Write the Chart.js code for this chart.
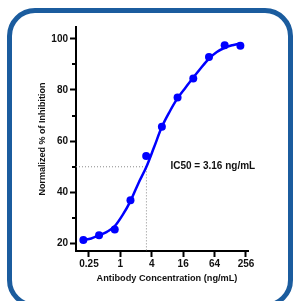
<!DOCTYPE html>
<html>
<head>
<meta charset="utf-8">
<script src="https://cdn.jsdelivr.net/npm/chart.js@4/dist/chart.umd.min.js"></script>
<style>
  html, body { margin: 0; padding: 0; background: #ffffff; overflow: hidden; }
  #wrap { position: relative; width: 294px; height: 301px; }
  #frame {
    position: absolute; left: 7px; top: 8px; width: 286px; height: 300px;
    box-sizing: border-box; border: 5px solid #1b5c9e; border-radius: 28px;
    pointer-events: none;
  }
  canvas { position: absolute; left: 0; top: 0; }
</style>
</head>
<body>
<div id="wrap">
  <canvas id="c" width="294" height="301"></canvas>
  <div id="frame"></div>
</div>
<script>
// ---- data ----
const concentrations = [0.195, 0.39, 0.78, 1.5625, 3.125, 6.25, 12.5, 25, 50, 100, 200];
const inhibition     = [21.4, 23.3, 25.5, 36.9, 54.2, 65.6, 77.1, 84.5, 92.9, 97.5, 97.3];

const fitX = [0.195, 0.276, 0.39, 0.552, 0.78, 1.10, 1.5625, 2.21, 3.16, 4.42, 6.25, 8.84, 12.5, 17.7, 25, 35.4, 50, 70.7, 100, 141, 200];
const fitY = [21.4, 22.0, 23.2, 24.6, 26.8, 31.1, 36.6, 43.5, 50.0, 57.6, 65.6, 71.6, 76.8, 80.9, 84.8, 88.7, 92.2, 94.8, 96.5, 97.5, 98.2];

const xTickValues = [0.25, 1, 4, 16, 64, 256];
const xTickLabels = ['0.25', '1', '4', '16', '64', '256'];
const yTickValues = [20, 40, 60, 80, 100];
const yTickLabels = ['20', '40', '60', '80', '100'];
const yMinorTicks = [30, 50, 70, 90];

const ic50 = 3.16;
const halfLevel = 50;
const ic50Label = 'IC50 = 3.16 ng/mL';
const xTitle = 'Antibody Concentration (ng/mL)';
const yTitle = 'Normalized % of Inhibition';

const xMin = 0.141, xMax = 280;
const yMin = 17.1, yMax = 104.6;

// ---- chart ----
const FONT = "'Liberation Sans', Arial, sans-serif";
const BLUE = 'rgb(0,0,255)';

const extras = {
  id: 'extras',
  afterDatasetsDraw(chart) {
    const ctx = chart.ctx;
    const xs = chart.scales.x, ys = chart.scales.y;
    ctx.save();
    // minor y ticks
    ctx.strokeStyle = '#000';
    ctx.lineWidth = 2;
    const ax = xs.left;
    yMinorTicks.forEach(v => {
      const py = Math.round(ys.getPixelForValue(v));
      ctx.beginPath();
      ctx.moveTo(ax - 4, py);
      ctx.lineTo(ax, py);
      ctx.stroke();
    });
    ctx.fillStyle = '#111';
    // IC50 label
    ctx.font = "bold 10px " + FONT;
    ctx.textAlign = 'left';
    ctx.textBaseline = 'middle';
    ctx.fillText(ic50Label, xs.getPixelForValue(ic50) + 24, ys.getPixelForValue(halfLevel) - 1);
    // x axis title
    ctx.font = "bold 9.2px " + FONT;
    ctx.textAlign = 'center';
    ctx.fillText(xTitle, (xs.left + xs.right) / 2 + 5, xs.bottom - 23);
    ctx.restore();
  }
};

new Chart(document.getElementById('c'), {
  type: 'scatter',
  data: {
    datasets: [
      {
        label: 'data',
        data: concentrations.map((x, i) => ({ x, y: inhibition[i] })),
        backgroundColor: BLUE,
        borderColor: BLUE,
        pointRadius: 4,
        pointBorderWidth: 0,
        showLine: false,
        order: 0
      },
      {
        type: 'line',
        label: 'fit',
        data: fitX.map((x, i) => ({ x, y: fitY[i] })),
        borderColor: BLUE,
        borderWidth: 2.5,
        pointRadius: 0,
        cubicInterpolationMode: 'monotone',
        fill: false,
        order: 1
      },
      {
        type: 'line',
        label: 'ic50',
        data: [{ x: xMin, y: halfLevel }, { x: ic50, y: halfLevel }, { x: ic50, y: yMin }],
        borderColor: '#8a8a8a',
        borderWidth: 1,
        borderDash: [1, 2],
        pointRadius: 0,
        tension: 0,
        fill: false,
        order: 2
      }
    ]
  },
  options: {
    responsive: false,
    animation: false,
    devicePixelRatio: 1,
    layout: { padding: { top: 27, right: 46, left: 0, bottom: 0 } },
    plugins: { legend: { display: false }, tooltip: { enabled: false } },
    scales: {
      x: {
        type: 'logarithmic',
        min: xMin, max: xMax,
        afterFit(s) { s.height = 50; },
        afterBuildTicks(s) { s.ticks = xTickValues.map(v => ({ value: v })); },
        ticks: {
          callback(v) { const i = xTickValues.indexOf(v); return i >= 0 ? xTickLabels[i] : ''; },
          font: { family: FONT, size: 10, weight: 'bold' },
          color: '#111',
          padding: 1,
          maxRotation: 0, autoSkip: false
        },
        grid: { drawOnChartArea: false, drawTicks: true, tickLength: 6, tickWidth: 2, tickColor: '#000' },
        border: { display: true, color: '#000', width: 2 },
        title: { display: false }
      },
      y: {
        type: 'linear',
        min: yMin, max: yMax,
        afterFit(s) { s.width = 76; },
        afterBuildTicks(s) { s.ticks = yTickValues.map(v => ({ value: v })); },
        ticks: {
          callback(v) { const i = yTickValues.indexOf(v); return i >= 0 ? yTickLabels[i] : ''; },
          font: { family: FONT, size: 10, weight: 'bold' },
          color: '#111',
          padding: 2
        },
        grid: { drawOnChartArea: false, drawTicks: true, tickLength: 6, tickWidth: 2, tickColor: '#000' },
        border: { display: true, color: '#000', width: 2 },
        title: {
          display: true, text: yTitle,
          font: { family: FONT, size: 9, weight: 'bold' }, color: '#111',
          padding: { top: 37.6, bottom: 0 }
        }
      }
    }
  },
  plugins: [extras]
});
</script>
</body>
</html>
